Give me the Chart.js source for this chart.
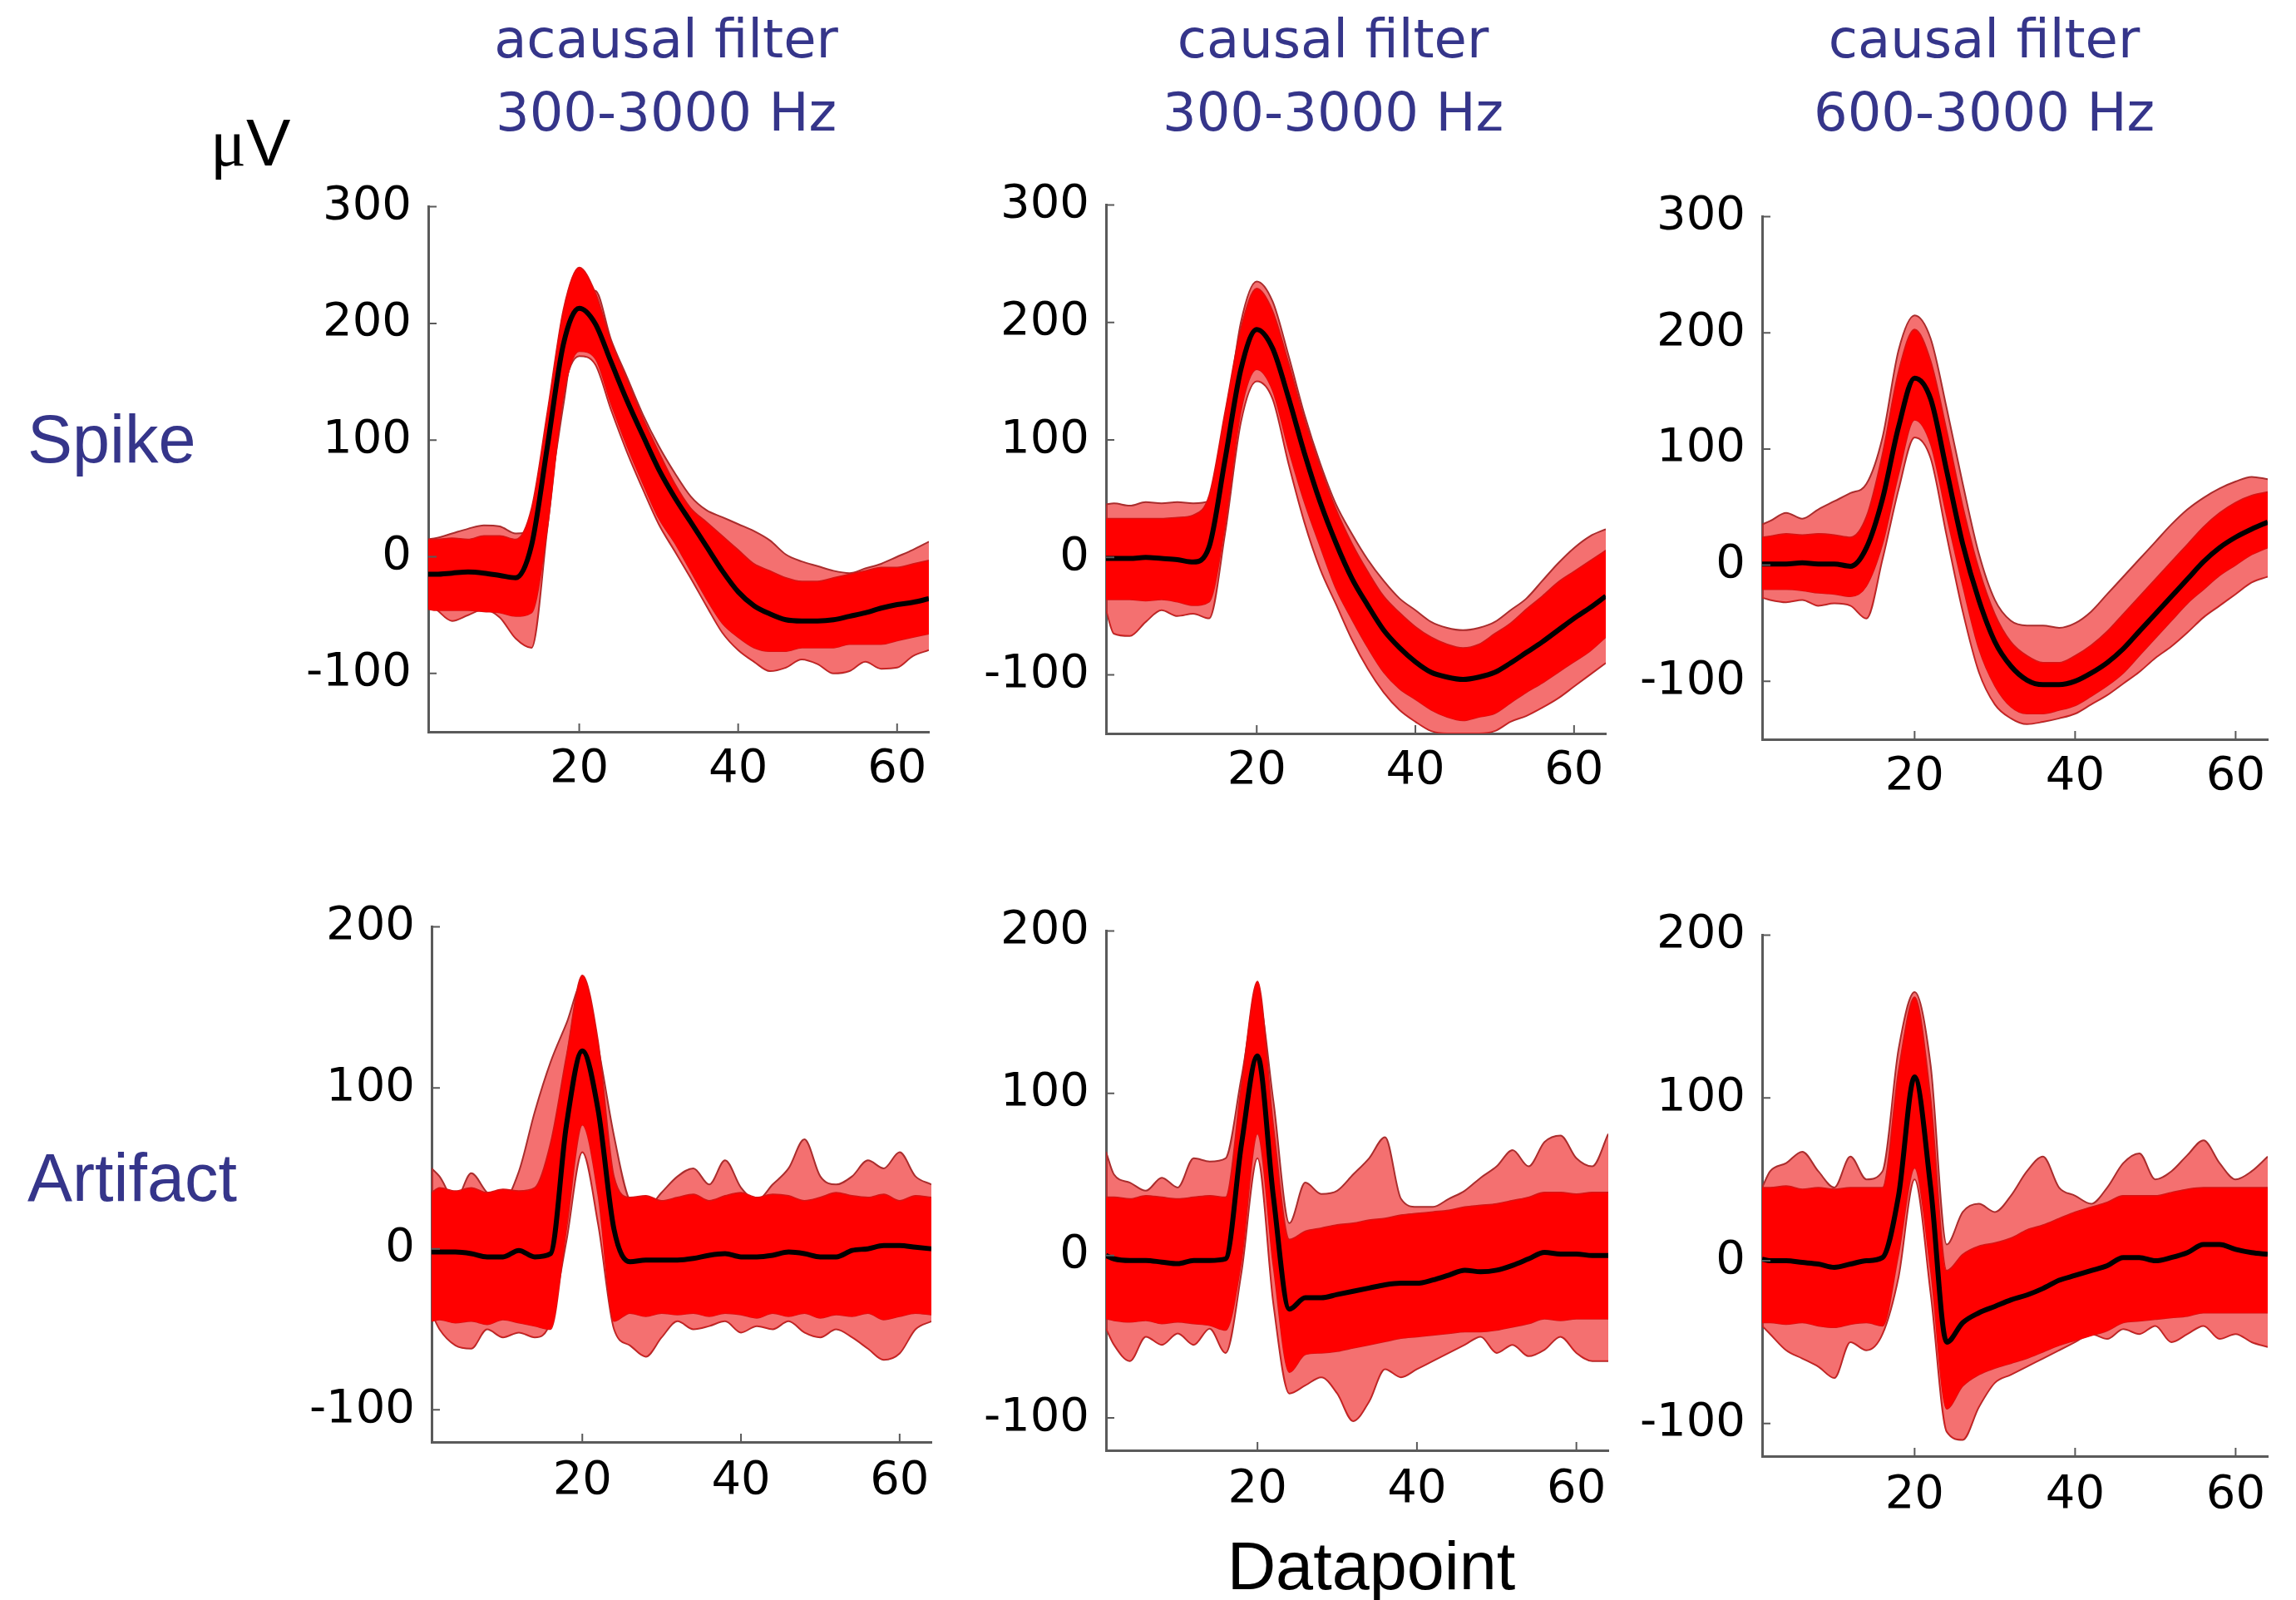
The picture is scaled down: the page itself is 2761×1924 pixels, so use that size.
<!DOCTYPE html>
<html>
<head>
<meta charset="utf-8">
<script src="https://cdn.jsdelivr.net/npm/chart.js@4.4.1/dist/chart.umd.min.js"></script>
<style>
  body { margin: 0; background: #fff; width: 2761px; height: 1924px; position: relative; overflow: hidden; }
  canvas { position: absolute; }
  .txt { position: absolute; white-space: nowrap; }
  .title { font-family: "DejaVu Sans"; font-size: 64px; line-height: 88px; color: #35358a; text-align: center; transform: translateX(-50%); }
  .row { font-family: "Liberation Sans"; font-size: 81px; line-height: 81px; color: #35358a; }
</style>
</head>
<body>
<div class="txt title" style="left:801px; top:3px">acausal filter<br>300-3000 Hz</div>
<div class="txt title" style="left:1603px; top:3px">causal filter<br>300-3000 Hz</div>
<div class="txt title" style="left:2386px; top:3px">causal filter<br>600-3000 Hz</div>
<div class="txt" style="left:253px; top:132px; font-family:'Liberation Sans'; font-size:80px; line-height:80px; color:#000"><span style="font-family:'Liberation Serif'">μ</span>V</div>
<div class="txt row" style="left:33px; top:488px">Spike</div>
<div class="txt row" style="left:33px; top:1376px">Artifact</div>
<div class="txt" style="left:1649px; top:1843px; transform:translateX(-50%); font-family:'Liberation Sans'; font-size:81px; line-height:81px; color:#000">Datapoint</div>

<script>
// sample positions (datapoint index)
const xs = [1, 2, 4, 6, 8, 10, 12, 14, 16, 18, 20, 22, 24, 26, 28, 30, 32, 34, 36, 38, 40, 42, 44, 46, 48, 50, 52, 54, 56, 58, 60, 62, 64];
const xTicks = [20, 40, 60];
const yTicksSpike = [-100, 0, 100, 200, 300];
const yTicksArtifact = [-100, 0, 100, 200];

// Spike, acausal 300-3000 Hz
const s1Mean = [-15, -15, -14, -13, -14, -16, -18, 10, 95, 182, 213, 200, 167, 134, 104, 75, 51, 30, 9, -12, -30, -42, -49, -54, -55, -55, -54, -51, -48, -44, -41, -39, -36];
const s1Hi = [15, 15, 16, 15, 18, 18, 15, 42, 125, 212, 248, 227, 185, 152, 119, 90, 63, 42, 30, 18, 6, -6, -12, -18, -21, -21, -18, -15, -12, -9, -9, -6, -3];
const s1Lo = [-45, -46, -46, -46, -47, -48, -51, -48, 25, 137, 176, 170, 131, 95, 63, 33, 12, -12, -36, -57, -69, -78, -81, -81, -78, -78, -78, -75, -75, -75, -72, -69, -66];
const s1Up = [15, 16, 20, 24, 27, 26, 20, 22, 48, 130, 215, 228, 186, 154, 122, 95, 72, 52, 40, 34, 28, 22, 14, 2, -4, -8, -12, -14, -10, -6, 0, 6, 13];
const s1Down = [-40, -45, -55, -50, -45, -52, -70, -78, 25, 140, 172, 165, 126, 90, 58, 28, 5, -18, -42, -65, -80, -90, -98, -95, -88, -92, -100, -98, -90, -96, -95, -85, -80];

// Spike, causal 300-3000 Hz
const s2Mean = [-1, -1, -1, 0, -1, -2, -4, 9, 83, 160, 194, 178, 136, 89, 47, 12, -18, -41, -62, -77, -89, -98, -102, -104, -102, -98, -90, -81, -72, -62, -52, -43, -33];
const s2Hi = [33, 33, 33, 33, 33, 34, 36, 53, 124, 195, 229, 210, 166, 118, 77, 41, 12, -12, -33, -47, -59, -68, -74, -77, -74, -65, -56, -44, -33, -21, -12, -3, 6];
const s2Lo = [-36, -36, -36, -37, -36, -38, -41, -38, 27, 124, 160, 142, 92, 47, 9, -27, -53, -77, -98, -112, -121, -130, -136, -139, -136, -133, -124, -115, -107, -98, -89, -80, -68];
const s2Up = [45, 46, 44, 47, 46, 47, 46, 48, 110, 200, 235, 218, 172, 122, 80, 45, 20, -2, -20, -35, -45, -55, -60, -62, -60, -55, -45, -35, -20, -5, 8, 18, 24];
const s2Down = [-45, -65, -67, -55, -45, -50, -48, -52, 20, 115, 150, 135, 80, 30, -10, -40, -70, -95, -115, -130, -140, -148, -150, -150, -150, -148, -140, -135, -128, -120, -110, -100, -90];

// Spike, causal 600-3000 Hz
const s3Mean = [1, 1, 1, 2, 1, 1, -1, 15, 57, 119, 161, 143, 81, 18, -30, -66, -87, -99, -103, -103, -100, -93, -84, -72, -57, -42, -27, -12, 3, 15, 24, 31, 37];
const s3Hi = [24, 25, 27, 26, 27, 26, 24, 42, 96, 167, 203, 176, 116, 51, -3, -42, -66, -78, -84, -84, -78, -69, -57, -42, -27, -12, 3, 18, 33, 45, 54, 60, 63];
const s3Lo = [-21, -21, -21, -22, -24, -25, -27, -18, 18, 78, 125, 104, 42, -18, -72, -104, -122, -128, -128, -125, -121, -113, -104, -93, -78, -63, -48, -33, -21, -9, 0, 9, 15];
const s3Up = [35, 38, 45, 40, 48, 55, 62, 70, 110, 185, 215, 195, 135, 70, 10, -30, -48, -52, -52, -54, -50, -40, -25, -10, 5, 20, 35, 48, 58, 66, 72, 76, 74];
const s3Down = [-28, -30, -32, -30, -35, -33, -35, -46, 5, 65, 110, 92, 25, -40, -92, -120, -132, -137, -135, -132, -128, -120, -112, -102, -92, -80, -70, -58, -45, -35, -25, -15, -10];

// Artifact, acausal 300-3000 Hz
const a1Mean = [-2, -2, -2, -3, -5, -5, -1, -5, -3, 77, 123, 86, 12, -8, -7, -7, -7, -6, -4, -3, -5, -5, -4, -2, -3, -5, -5, -1, 0, 2, 2, 1, 0];
const a1Hi = [35, 38, 36, 38, 35, 37, 36, 38, 66, 120, 170, 129, 45, 32, 33, 30, 32, 34, 30, 33, 35, 32, 34, 33, 30, 32, 35, 33, 32, 34, 30, 33, 32];
const a1Lo = [-45, -44, -46, -45, -47, -44, -46, -48, -50, 12, 77, 33, -45, -40, -42, -40, -41, -40, -42, -40, -41, -43, -40, -42, -40, -43, -41, -42, -40, -44, -42, -40, -41];
const a1Up = [50, 45, 30, 47, 35, 30, 48, 85, 116, 140, 165, 125, 70, 30, 25, 35, 45, 50, 40, 55, 38, 30, 40, 50, 68, 45, 40, 45, 55, 50, 60, 45, 40];
const a1Down = [-40, -50, -60, -62, -50, -55, -52, -55, -45, 5, 60, 15, -50, -60, -67, -55, -45, -50, -48, -45, -52, -48, -50, -45, -52, -55, -50, -55, -62, -69, -65, -50, -45];

// Artifact, causal 300-3000 Hz
const a2Mean = [0, -2, -3, -3, -4, -5, -3, -3, -2, 69, 123, 36, -33, -26, -26, -24, -22, -20, -18, -17, -17, -15, -12, -9, -10, -9, -6, -2, 2, 1, 1, 0, 0];
const a2Hi = [36, 36, 35, 37, 36, 35, 36, 37, 36, 106, 169, 80, 10, 15, 17, 19, 20, 22, 23, 25, 26, 27, 28, 30, 31, 32, 34, 36, 39, 39, 38, 39, 39];
const a2Lo = [-39, -40, -41, -40, -42, -41, -42, -43, -46, -3, 75, -7, -72, -61, -60, -59, -57, -55, -53, -51, -50, -49, -48, -47, -47, -46, -44, -42, -39, -40, -39, -39, -39];
const a2Up = [64, 50, 45, 40, 48, 42, 60, 58, 60, 110, 160, 95, 20, 45, 38, 40, 50, 60, 73, 35, 30, 30, 35, 40, 48, 55, 65, 55, 70, 74, 60, 55, 75];
const a2Down = [-45, -55, -65, -50, -55, -48, -55, -45, -60, -10, 60, -30, -85, -80, -75, -85, -102, -90, -70, -75, -70, -65, -60, -55, -50, -60, -55, -62, -58, -50, -60, -65, -65];

// Artifact, causal 600-3000 Hz
const a3Mean = [1, 0, 0, -1, -2, -4, -2, 0, 2, 40, 113, 45, -50, -38, -32, -28, -24, -21, -17, -12, -9, -6, -3, 2, 2, 0, 2, 5, 10, 10, 7, 5, 4];
const a3Hi = [45, 45, 46, 44, 45, 44, 45, 45, 45, 117, 162, 100, -6, 4, 9, 11, 14, 19, 22, 26, 30, 33, 36, 40, 40, 40, 42, 44, 45, 45, 45, 45, 45];
const a3Lo = [-38, -38, -39, -38, -40, -41, -39, -38, -40, 4, 57, -6, -91, -77, -70, -66, -63, -60, -56, -52, -49, -46, -43, -38, -37, -36, -35, -34, -32, -32, -32, -32, -32];
const a3Up = [45, 55, 60, 67, 55, 45, 64, 50, 55, 130, 165, 120, 10, 30, 35, 30, 40, 55, 64, 45, 40, 35, 45, 60, 66, 50, 55, 65, 74, 60, 50, 55, 64];
const a3Down = [-40, -45, -55, -60, -65, -72, -50, -55, -45, -10, 50, -20, -105, -110, -90, -75, -70, -65, -60, -55, -50, -45, -48, -42, -45, -40, -50, -45, -40, -48, -45, -50, -53];

// plot area of each panel on the page: left, right, top, bottom
const panels = [
  { series: [s1Mean, s1Hi, s1Lo, s1Up, s1Down], yTicks: yTicksSpike, yMin: -150, yMax: 300, box: [515, 1117, 235, 880], tickPad: 12 },
  { series: [s2Mean, s2Hi, s2Lo, s2Up, s2Down], yTicks: yTicksSpike, yMin: -150, yMax: 300, box: [1330, 1931, 233, 882], tickPad: 12 },
  { series: [s3Mean, s3Hi, s3Lo, s3Up, s3Down], yTicks: yTicksSpike, yMin: -150, yMax: 300, box: [2119, 2727, 247, 889], tickPad: 12 },
  { series: [a1Mean, a1Hi, a1Lo, a1Up, a1Down], yTicks: yTicksArtifact, yMin: -120, yMax: 200, box: [519, 1120, 1101, 1734], tickPad: 14 },
  { series: [a2Mean, a2Hi, a2Lo, a2Up, a2Down], yTicks: yTicksArtifact, yMin: -120, yMax: 200, box: [1330, 1934, 1106, 1744], tickPad: 14 },
  { series: [a3Mean, a3Hi, a3Lo, a3Up, a3Down], yTicks: yTicksArtifact, yMin: -120, yMax: 200, box: [2119, 2727, 1111, 1751], tickPad: 14 }
];

const yAxisW = 160;
const xAxisH = 90;
const padTop = 40;
const padRight = 30;
const axisColor = "#5a5a5a";

const toPoints = arr => xs.map((x, i) => ({ x, y: arr[i] }));

// matlab-style tick marks pointing into the plot
const inwardTicks = {
  id: "inwardTicks",
  afterDraw(chart) {
    const { ctx, chartArea: a, scales: { x, y } } = chart;
    ctx.save();
    ctx.strokeStyle = axisColor;
    ctx.lineWidth = 2;
    ctx.beginPath();
    x.ticks.forEach(t => {
      const px = x.getPixelForValue(t.value);
      ctx.moveTo(px, a.bottom);
      ctx.lineTo(px, a.bottom - 10);
    });
    y.ticks.forEach(t => {
      const py = y.getPixelForValue(t.value);
      ctx.moveTo(a.left, py);
      ctx.lineTo(a.left + 10, py);
    });
    ctx.stroke();
    ctx.restore();
  }
};

function makePanel(p) {
  const [left, right, top, bottom] = p.box;
  const canvas = document.createElement("canvas");
  const w = right - left + yAxisW + padRight;
  const h = bottom - top + padTop + xAxisH;
  canvas.width = w;
  canvas.height = h;
  canvas.style.left = (left - yAxisW) + "px";
  canvas.style.top = (top - padTop) + "px";
  canvas.style.width = w + "px";
  canvas.style.height = h + "px";
  document.body.appendChild(canvas);

  const [mean, hi, lo, up, down] = p.series;
  const line = { pointRadius: 0, cubicInterpolationMode: "monotone", borderJoinStyle: "round" };

  new Chart(canvas.getContext("2d"), {
    type: "line",
    data: {
      datasets: [
        { ...line, data: toPoints(mean), borderColor: "#000", borderWidth: 6, fill: false },
        { ...line, data: toPoints(hi), borderColor: "rgb(215,20,20)", borderWidth: 1.5, backgroundColor: "#ff0000", fill: "+1" },
        { ...line, data: toPoints(lo), borderColor: "rgb(215,20,20)", borderWidth: 1.5, fill: false },
        // outer traces, with a fringe of sparser traces between them
        { ...line, data: toPoints(up), borderColor: "rgb(170,45,45)", borderWidth: 2, backgroundColor: "rgba(238,25,25,0.62)", fill: "+1" },
        { ...line, data: toPoints(down), borderColor: "rgb(170,45,45)", borderWidth: 2, fill: false }
      ]
    },
    options: {
      responsive: false,
      devicePixelRatio: 1,
      animation: false,
      layout: { padding: { top: padTop, right: padRight, left: 0, bottom: 0 } },
      plugins: { legend: { display: false }, tooltip: { enabled: false } },
      scales: {
        x: {
          type: "linear",
          min: 1,
          max: 64,
          afterBuildTicks: s => { s.ticks = xTicks.map(v => ({ value: v })); },
          afterFit: s => { s.height = xAxisH; },
          grid: { drawOnChartArea: false, drawTicks: false },
          border: { color: axisColor, width: 3 },
          ticks: { color: "#000", padding: p.tickPad, font: { family: "DejaVu Sans", size: 56 }, callback: v => String(v), maxRotation: 0 }
        },
        y: {
          type: "linear",
          min: p.yMin,
          max: p.yMax,
          afterBuildTicks: s => { s.ticks = p.yTicks.map(v => ({ value: v })); },
          afterFit: s => { s.width = yAxisW; },
          grid: { drawOnChartArea: false, drawTicks: false },
          border: { color: axisColor, width: 3 },
          ticks: { color: "#000", padding: 20, font: { family: "DejaVu Sans", size: 56 }, callback: v => String(v) }
        }
      }
    },
    plugins: [inwardTicks]
  });
}

panels.forEach(makePanel);
</script>
</body>
</html>
